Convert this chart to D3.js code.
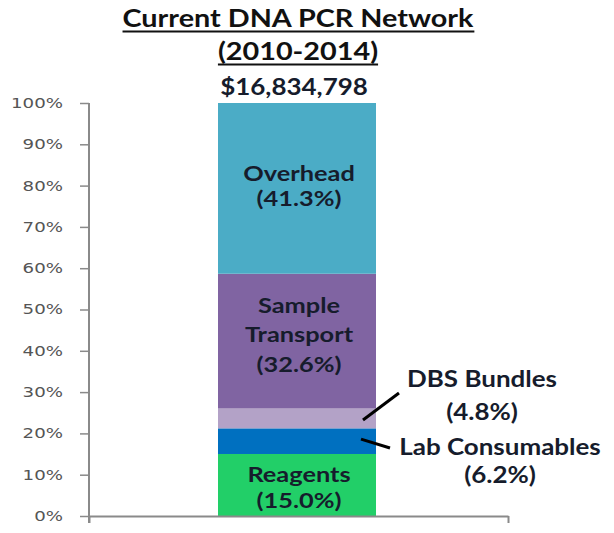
<!DOCTYPE html>
<html><head><meta charset="utf-8">
<script src="https://cdn.jsdelivr.net/npm/d3@7"></script>
<style>body{margin:0;background:#fff}svg{display:block}</style>
</head><body>
<svg id="c" width="614" height="533"></svg>
<script>
const categories = ["Reagents", "Lab Consumables", "DBS Bundles", "Sample Transport", "Overhead"];
const values = [15.0, 6.2, 4.8, 32.6, 41.3];
const colors = ["#22CF68", "#0070C0", "#B3A2C7", "#8064A2", "#4BACC6"];
const tickValues = [0, 10, 20, 30, 40, 50, 60, 70, 80, 90, 100];
const titleLines = ["Current DNA PCR Network", "(2010-2014)"];
const totalLabel = "$16,834,798";
const insideLabels = [["Reagents", "(15.0%)"], null, null, ["Sample", "Transport", "(32.6%)"], ["Overhead", "(41.3%)"]];
const outsideLabels = [null, ["Lab Consumables", "(6.2%)"], ["DBS Bundles", "(4.8%)"], null, null];

const svg = d3.select("#c");
const font = "Lato, 'Open Sans', sans-serif";
const textColor = "#161c2c";

const y = d3.scaleLinear().domain([0, 100]).range([516, 103]);
const barX = 218, barW = 158;

const total = d3.sum(values);
let acc = 0;
const stacked = values.map((v, i) => {
  const s = { cat: categories[i], v, y0: acc / total * 100, y1: (acc + v) / total * 100, color: colors[i], i };
  acc += v;
  return s;
});

function addText(x, yy, str, size, sx, anchor, fill) {
  return svg.append("text")
    .attr("transform", `translate(${x},${yy}) scale(${sx},1)`)
    .attr("text-anchor", anchor || "middle")
    .style("font-family", font).style("font-weight", "bold").style("font-size", size + "px")
    .attr("fill", fill || textColor).text(str);
}

// bars
svg.append("g").selectAll("rect").data(stacked).join("rect")
  .attr("x", barX).attr("width", barW)
  .attr("y", d => y(d.y1)).attr("height", d => y(d.y0) - y(d.y1))
  .attr("fill", d => d.color);

// y axis
const yAxis = d3.axisLeft(y).tickValues(tickValues).tickFormat(d => d + "%").tickSize(9).tickPadding(16);
const gy = svg.append("g").attr("transform", "translate(89,0)").call(yAxis);
gy.select(".domain").attr("stroke", "#8a8a8a").attr("stroke-width", 2).attr("d", "M0,103V523");
gy.selectAll(".tick line").attr("stroke", "#8a8a8a").attr("stroke-width", 1.5);
gy.selectAll(".tick text").attr("x", null).attr("transform", "translate(-26,0) scale(1.3,1)")
  .attr("fill", "#555").style("font-family", "'DejaVu Sans', Verdana, sans-serif").style("font-size", "14px");

// x axis
const xl = d3.scaleLinear().domain([0, 1]).range([89, 508]);
const gx = svg.append("g").attr("transform", "translate(0,516)")
  .call(d3.axisBottom(xl).tickValues([0, 1]).tickFormat("").tickSize(7).tickSizeOuter(0));
gx.select(".domain").attr("stroke", "#8a8a8a").attr("stroke-width", 2);
gx.selectAll(".tick line").attr("stroke", "#8a8a8a").attr("stroke-width", 2);

// title
const cx = 298;
const tBase = [27, 60];
const tSx = 1.2;
titleLines.forEach((t, k) => {
  const tx = addText(cx, tBase[k], t, 24, tSx, "middle", "#111");
  const bb = tx.node().getBBox();
  svg.append("line").attr("x1", cx + bb.x * tSx).attr("x2", cx + (bb.x + bb.width) * tSx)
    .attr("y1", tBase[k] + 4.5).attr("y2", tBase[k] + 4.5).attr("stroke", "#111").attr("stroke-width", 2);
});
addText(cx - 4, 95, totalLabel, 22, 1.18);

// inside labels
const barCx = barX + barW / 2;
const nudges = { 0: [10, 26], 3: [1, 29.5], 4: [5, 25] };
stacked.forEach((d, i) => {
  const lines = insideLabels[i];
  if (!lines) return;
  const mid = (y(d.y0) + y(d.y1)) / 2;
  const [off, lh] = nudges[i];
  lines.forEach((l, k) => {
    addText(barCx + 2, mid + off + (k - (lines.length - 1) / 2) * lh, l, 21.5, 1.18);
  });
});

// outside labels with leader lines
const outPos = { 1: { x: 500, base: [455, 483], lx1: 361, ly1: y((stacked[1].y0 + stacked[1].y1) / 2) - 2, lx2: 390, ly2: 448 },
                 2: { x: 482, base: [387, 420], lx1: 363, ly1: 420, lx2: 399, ly2: 393 } };
[1, 2].forEach(i => {
  const p = outPos[i];
  outsideLabels[i].forEach((l, k) => {
    addText(p.x, p.base[k], l, 22, 1.18);
  });
  svg.append("line").attr("x1", p.lx1).attr("y1", p.ly1).attr("x2", p.lx2).attr("y2", p.ly2)
    .attr("stroke", "#000").attr("stroke-width", 3);
});
</script>
</body></html>
